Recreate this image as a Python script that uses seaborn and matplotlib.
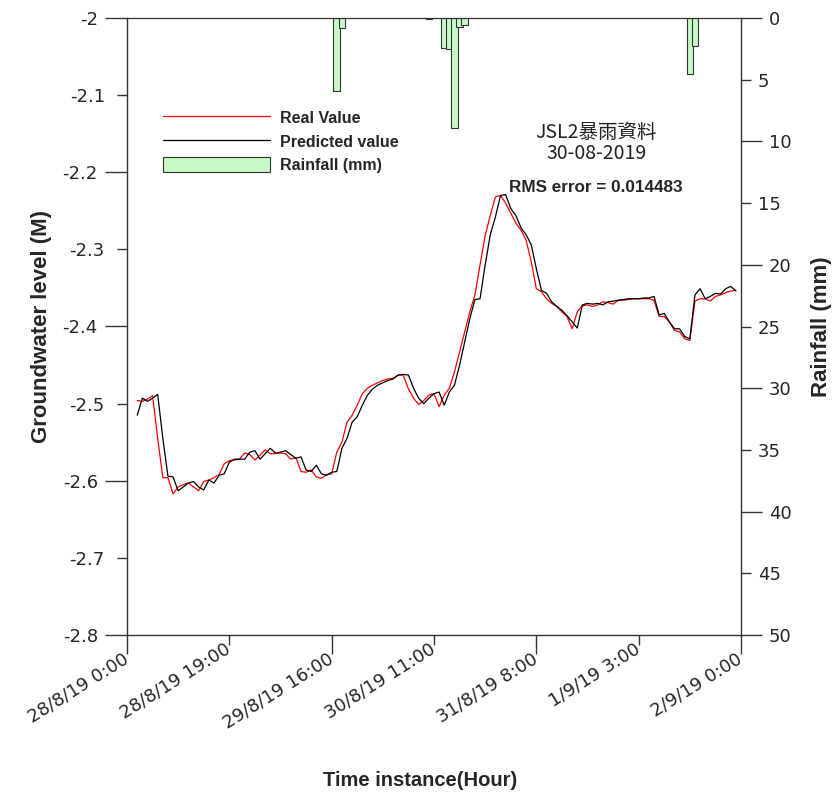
import matplotlib
matplotlib.use("Agg")
import matplotlib.pyplot as plt
import seaborn as sns
from matplotlib.lines import Line2D
from matplotlib.patches import Patch

# ---- data -------------------------------------------------------------
hours = list(range(2, 120))

real_value = [
    -2.496, -2.497, -2.494, -2.490, -2.545, -2.596, -2.596, -2.617, -2.608, -2.605,
    -2.603, -2.608, -2.613, -2.601, -2.599, -2.596, -2.592, -2.578, -2.574, -2.573,
    -2.572, -2.564, -2.566, -2.573, -2.567, -2.560, -2.565, -2.565, -2.564, -2.565,
    -2.572, -2.570, -2.588, -2.589, -2.586, -2.595, -2.597, -2.592, -2.591, -2.563,
    -2.550, -2.524, -2.515, -2.502, -2.487, -2.480, -2.476, -2.473, -2.470, -2.468,
    -2.467, -2.463, -2.463, -2.481, -2.493, -2.501, -2.496, -2.489, -2.487, -2.504,
    -2.489, -2.480, -2.459, -2.433, -2.407, -2.381, -2.359, -2.320, -2.282, -2.256,
    -2.232, -2.230, -2.240, -2.253, -2.266, -2.275, -2.288, -2.316, -2.351, -2.355,
    -2.364, -2.370, -2.374, -2.381, -2.387, -2.403, -2.381, -2.373, -2.372, -2.374,
    -2.372, -2.368, -2.369, -2.371, -2.366, -2.366, -2.365, -2.364, -2.364, -2.364,
    -2.364, -2.366, -2.387, -2.387, -2.394, -2.405, -2.407, -2.416, -2.418, -2.367,
    -2.364, -2.364, -2.367, -2.361, -2.359, -2.356, -2.354, -2.353,
]

predicted_value = [
    -2.515, -2.493, -2.497, -2.493, -2.488, -2.545, -2.594, -2.595, -2.613, -2.608,
    -2.603, -2.601, -2.608, -2.612, -2.599, -2.603, -2.593, -2.591, -2.576, -2.572,
    -2.572, -2.572, -2.563, -2.561, -2.572, -2.565, -2.558, -2.564, -2.563, -2.561,
    -2.566, -2.571, -2.569, -2.586, -2.588, -2.580, -2.591, -2.593, -2.589, -2.588,
    -2.558, -2.545, -2.524, -2.517, -2.502, -2.489, -2.481, -2.476, -2.473, -2.470,
    -2.468, -2.463, -2.462, -2.463, -2.480, -2.493, -2.500, -2.493, -2.487, -2.485,
    -2.502, -2.485, -2.476, -2.450, -2.420, -2.390, -2.365, -2.364, -2.320, -2.281,
    -2.258, -2.230, -2.229, -2.247, -2.256, -2.272, -2.281, -2.294, -2.325, -2.353,
    -2.357, -2.368, -2.374, -2.379, -2.386, -2.394, -2.402, -2.372, -2.370, -2.371,
    -2.370, -2.372, -2.368, -2.367, -2.366, -2.365, -2.364, -2.364, -2.364, -2.363,
    -2.363, -2.361, -2.385, -2.383, -2.394, -2.403, -2.403, -2.413, -2.416, -2.359,
    -2.351, -2.364, -2.361, -2.357, -2.358, -2.351, -2.348, -2.354,
]

rain_hour = [41, 42, 59, 62, 63, 64, 65, 66, 110, 111]
rain_mm = [5.9, 0.8, 0.1, 2.4, 2.5, 8.9, 0.7, 0.6, 4.5, 2.3]

time_major_pos = [0, 40, 80, 120]
time_major_lab = ["28/8/19 0:00", "29/8/19 16:00", "31/8/19 8:00", "2/9/19 0:00"]
time_minor_pos = [20, 60, 100]
time_minor_lab = ["28/8/19 19:00", "30/8/19 11:00", "1/9/19 3:00"]

gw_major = [-2.8, -2.6, -2.4, -2.2, -2.0]
gw_major_lab = ["-2.8", "-2.6", "-2.4", "-2.2", "-2"]
gw_minor = [-2.7, -2.5, -2.3, -2.1]
gw_minor_lab = ["-2.7", "-2.5", "-2.3", "-2.1"]

rain_major = [0, 10, 20, 30, 40, 50]
rain_minor = [5, 15, 25, 35, 45]

# ---- style ------------------------------------------------------------
sns.set_style("ticks")
plt.rcParams["font.family"] = ["Liberation Sans", "Noto Sans CJK TC", "DejaVu Sans"]

axis_col = "#333333"
bar_col = "#c8fac8"
tick_family = "DejaVu Sans"
tick_size = 13

fig = plt.figure(figsize=(8.38, 7.97), dpi=100)
ax = fig.add_axes([127 / 838, 1 - 635 / 797, 614 / 838, 617 / 797])

sns.lineplot(x=hours, y=real_value, color="#ff0000", lw=0.9, ax=ax)
sns.lineplot(x=hours, y=predicted_value, color="black", lw=0.9, ax=ax)
ax.set_xlim(0, 120)
ax.set_ylim(-2.8, -2.0)

ax2 = ax.twinx()
ax2.bar(rain_hour, rain_mm, width=1.3, color=bar_col, edgecolor=axis_col,
        linewidth=0.8, align="center")
ax2.set_ylim(50, 0)

# spines
for a in (ax, ax2):
    for s in a.spines.values():
        s.set_color(axis_col)
        s.set_linewidth(1.0)
ax.spines["right"].set_visible(False)
ax.spines["top"].set_visible(False)
ax2.spines["left"].set_visible(False)
ax2.spines["bottom"].set_visible(False)
ax2.spines["top"].set_linewidth(0.9)

# x ticks
ax.set_xticks(time_major_pos, labels=time_major_lab)
ax.set_xticks(time_minor_pos, labels=time_minor_lab, minor=True)
ax.tick_params(axis="x", which="major", direction="out", length=14, width=1.0,
               color=axis_col, pad=2)
ax.tick_params(axis="x", which="minor", direction="out", length=7, width=1.0,
               color=axis_col, pad=2)
for t in ax.get_xticklabels(which="both"):
    t.set_rotation(32)
    t.set_ha("right")
    t.set_va("center")
    t.set_rotation_mode("anchor")
    t.set_fontfamily(tick_family)
    t.set_fontsize(tick_size)

# left y ticks
ax.set_yticks(gw_major, labels=gw_major_lab)
ax.set_yticks(gw_minor, labels=gw_minor_lab, minor=True)
ax.tick_params(axis="y", which="major", direction="out", length=16, width=1.0,
               color=axis_col, pad=5)
ax.tick_params(axis="y", which="minor", direction="out", length=7, width=1.0,
               color=axis_col, pad=9)
for t in ax.get_yticklabels(which="both"):
    t.set_fontfamily(tick_family)
    t.set_fontsize(tick_size)

# right y ticks
ax2.set_yticks(rain_major, labels=[str(v) for v in rain_major])
ax2.set_yticks(rain_minor, labels=[str(v) for v in rain_minor], minor=True)
ax2.tick_params(axis="y", which="major", direction="out", length=15, width=1.0,
                color=axis_col, pad=5)
ax2.tick_params(axis="y", which="minor", direction="out", length=7, width=1.0,
                color=axis_col, pad=5)
for t in ax2.get_yticklabels(which="both"):
    t.set_fontfamily(tick_family)
    t.set_fontsize(tick_size)

# axis titles
ax.set_ylabel("Groundwater level (M)", fontsize=16, fontweight="bold")
ax.yaxis.set_label_coords(-0.122, 0.5)
ax2.set_ylabel("Rainfall (mm)", fontsize=16, fontweight="bold")
ax2.yaxis.set_label_coords(1.114, 0.5)
ax.set_xlabel("Time instance(Hour)", fontsize=14.5, fontweight="bold")
ax.xaxis.set_label_coords(0.477, -0.22)

# legend
handles = [
    Line2D([], [], color="#ff0000", lw=0.9),
    Line2D([], [], color="black", lw=0.9),
    Patch(facecolor=bar_col, edgecolor=axis_col, linewidth=0.8),
]
ax2.legend(handles, ["Real Value", "Predicted value", "Rainfall (mm)"],
           loc="upper left", bbox_to_anchor=(0.0586, 0.851), frameon=False,
           prop=dict(weight="bold", size=11.5), handlelength=6.7,
           handleheight=1.1, handletextpad=0.6, labelspacing=0.47,
           borderpad=0, borderaxespad=0)

# annotations
ax.text(0.764, 0.815, "JSL2暴雨資料", transform=ax.transAxes, ha="center",
        va="center", fontsize=14, family=["Noto Sans CJK TC", "DejaVu Sans"],
        color="#222222")
ax.text(0.764, 0.781, "30-08-2019", transform=ax.transAxes, ha="center",
        va="center", fontsize=14, family=["Noto Sans CJK TC", "DejaVu Sans"],
        color="#222222")
ax.text(0.764, 0.726, "RMS error = 0.014483", transform=ax.transAxes,
        ha="center", va="center", fontsize=12.3, fontweight="bold")

fig.savefig("out.png", dpi=100)
